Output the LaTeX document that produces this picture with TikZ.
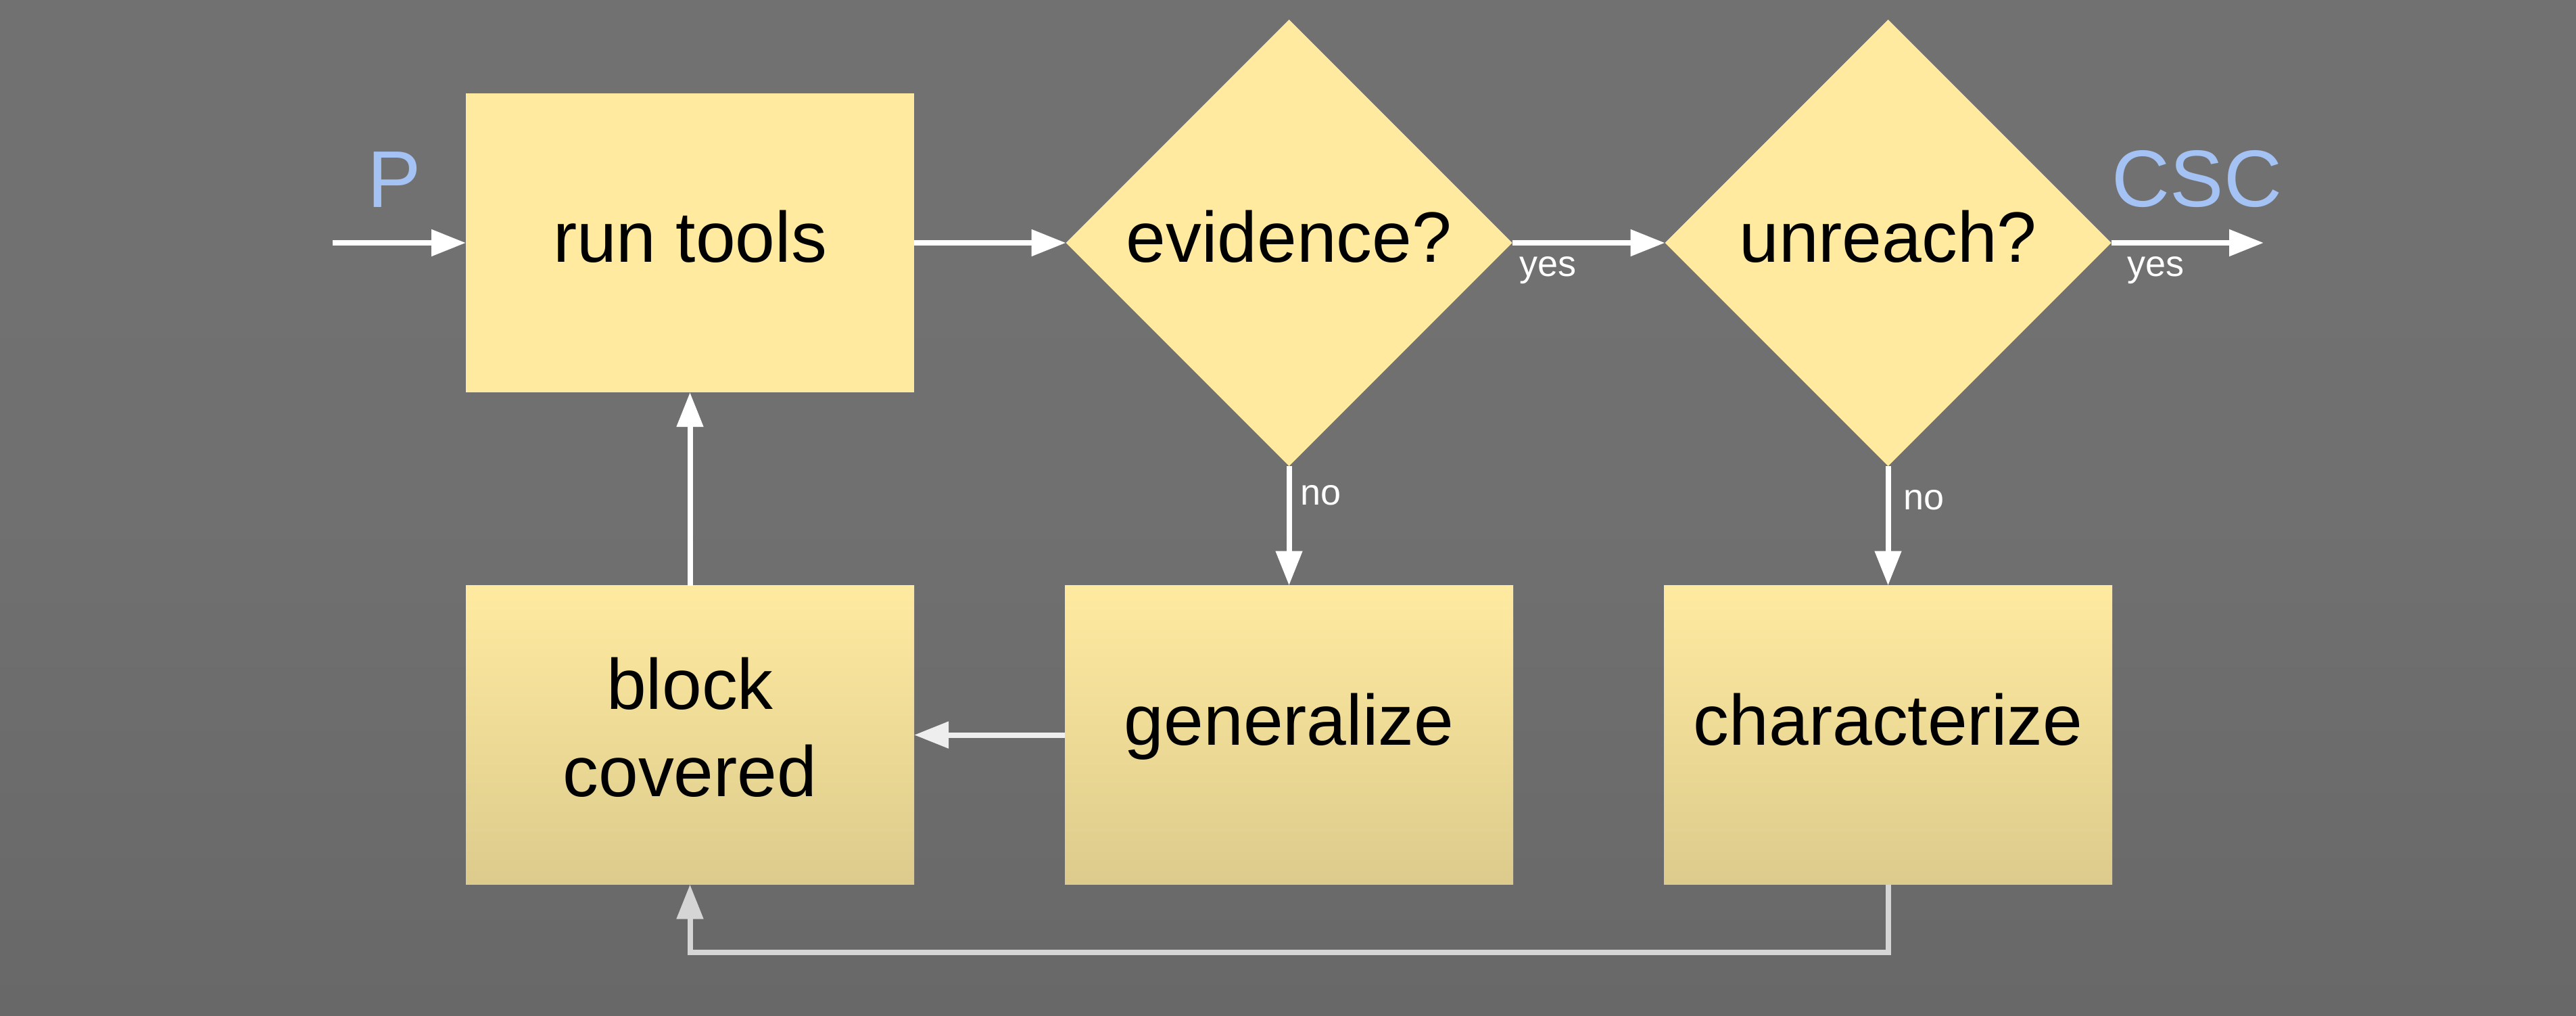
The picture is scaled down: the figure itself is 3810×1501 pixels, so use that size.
\documentclass[tikz,border=0pt]{standalone}
\usepackage{fontspec}
\setmainfont{Liberation Sans}
\usetikzlibrary{shapes.geometric,arrows.meta}
\definecolor{boxy}{HTML}{FFEAA0}
\definecolor{boxdark}{HTML}{DCCB8C}
\definecolor{bgtop}{HTML}{737373}
\definecolor{bgmid}{HTML}{707070}
\definecolor{bglow}{HTML}{686868}
\definecolor{bgbot}{HTML}{5A5A5A}
\definecolor{cscblue}{HTML}{A4C2F4}
\definecolor{loopgray}{HTML}{D5D5D5}
\definecolor{arrgray}{HTML}{EEEEEE}
\pgfdeclareverticalshading{bgshade}{100bp}{color(0bp)=(bgbot); color(25bp)=(bglow); color(50bp)=(bgmid); color(100bp)=(bgtop)}
\begin{document}
\begin{tikzpicture}[x=0.25pt,y=-0.25pt,
  boxbase/.style={rectangle, draw=none, inner sep=0pt, outer sep=0pt,
    minimum width=165.75pt, minimum height=110.5pt,
    font=\fontsize{26.4}{32.25}\selectfont},
  topbox/.style={boxbase, fill=boxy, text height=20pt, text depth=6pt},
  lowbox/.style={boxbase, top color=boxy, bottom color=boxdark, text height=20pt, text depth=12.5pt},
  decision/.style={diamond, aspect=1, fill=boxy, draw=none, inner sep=0pt, outer sep=0pt,
    minimum width=165pt, minimum height=165pt},
  dectext/.style={font=\fontsize{26.4}{32.25}\selectfont, inner sep=0pt, text height=20pt, text depth=6pt},
  multitext/.style={font=\fontsize{26.4}{32.25}\selectfont, inner sep=0pt, align=center},
  conn/.style={line width=2pt, draw=white, -{Triangle[length=12.75pt,width=9.5pt]}},
  lab/.style={font=\fontsize{13.5}{16}\selectfont, text=white, inner sep=0pt, anchor=base west},
  bigtext/.style={font=\fontsize{29.75}{34}\selectfont, text=cscblue, inner sep=0pt, anchor=base west}]
\useasboundingbox (0,0) rectangle (3810,1501);
\shade[shading=bgshade] (0,0) rectangle (3810,1501);

% nodes
\node[topbox] (run) at (1020.5,359) {run tools};
\node[decision, label={[dectext]center:evidence?}] (evi) at (1906.5,359) {};
\node[decision, label={[dectext]center:unreach?}] (unr) at (2792.5,359) {};
\node[lowbox, label={[multitext, yshift=2.75pt]center:block\\covered}] (blk) at (1020.5,1086.5) {};
\node[lowbox] (gen) at (1906.5,1086.5) {generalize};
\node[lowbox] (chr) at (2792.5,1086.5) {characterize};

\node[bigtext] (ptext) at (543,306) {P};
\node[bigtext] (csc) at (3123,305) {CSC};

\coordinate (pin) at (492,359);
\coordinate (out) at (3348,359);
\coordinate (loopy) at (0,1408);

% connectors
\draw[conn] (pin) -- (run.west);
\draw[conn] (run.east) -- (evi.west);
\draw[conn] (evi.east) -- (unr.west);
\draw[conn] (unr.east) -- (out);
\draw[conn] (evi.south) -- (gen.north);
\draw[conn] (unr.south) -- (chr.north);
\draw[conn, draw=arrgray] (gen.west) -- (blk.east);
\draw[conn] (blk.north) -- (run.south);
\draw[conn, draw=loopgray] (chr.south) -- (chr.south |- loopy) -| (blk.south);

% connector labels
\node[lab] (yes1) at ([xshift=2.5pt,yshift=-12.25pt]evi.east) {yes};
\node[lab] (yes2) at ([xshift=5.75pt,yshift=-12.25pt]unr.east) {yes};
\node[lab] (no1) at ([xshift=4.1pt,yshift=-14.4pt]evi.south) {no};
\node[lab] (no2) at ([xshift=5.6pt,yshift=-16.1pt]unr.south) {no};
\end{tikzpicture}
\end{document}
